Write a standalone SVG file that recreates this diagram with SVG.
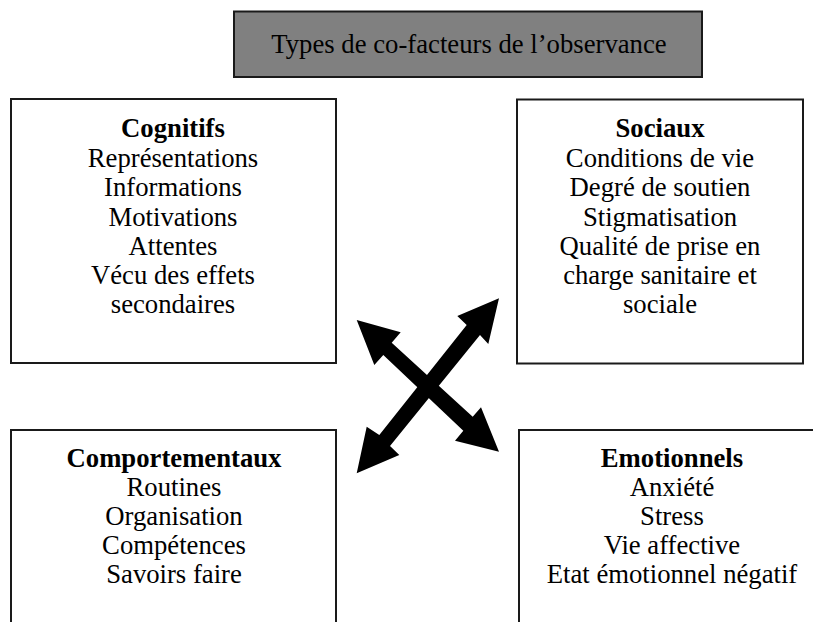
<svg xmlns="http://www.w3.org/2000/svg" width="813" height="622" viewBox="0 0 813 622">
<style>
.box{fill:#fff;stroke:#1a1a1a;stroke-width:2}
.title{fill:#808080;stroke:#1a1a1a;stroke-width:2}
text{font-family:"Liberation Serif","Times New Roman",serif;font-size:26.7px;fill:#000;text-anchor:middle}
.h{font-weight:bold}
.arrow{fill:#000;stroke:none}
</style>
<rect width="813" height="622" fill="#fff"/>
<g id="title">
<rect class="title" x="234" y="11.5" width="468" height="65.5"/>
<text x="469" y="53">Types de co-facteurs de l’observance</text>
</g>
<g id="cognitifs">
<rect class="box" x="11" y="99" width="325" height="264"/>
<text class="h" x="173" y="137">Cognitifs</text>
<text x="173" y="166.5">Représentations</text>
<text x="173" y="196">Informations</text>
<text x="173" y="225.5">Motivations</text>
<text x="173" y="255">Attentes</text>
<text x="173" y="284">Vécu des effets</text>
<text x="173" y="313">secondaires</text>
</g>
<g id="sociaux">
<rect class="box" x="517" y="99.5" width="286" height="264"/>
<text class="h" x="660" y="137">Sociaux</text>
<text x="660" y="166.5">Conditions de vie</text>
<text x="660" y="196">Degré de soutien</text>
<text x="660" y="225.5">Stigmatisation</text>
<text x="660" y="255">Qualité de prise en</text>
<text x="660" y="284">charge sanitaire et</text>
<text x="660" y="313">sociale</text>
</g>
<g id="comportementaux">
<rect class="box" x="11" y="430" width="325" height="220"/>
<text class="h" x="174" y="467">Comportementaux</text>
<text x="174" y="496">Routines</text>
<text x="174" y="525">Organisation</text>
<text x="174" y="554">Compétences</text>
<text x="174" y="583">Savoirs faire</text>
</g>
<g id="emotionnels">
<rect class="box" x="519" y="430" width="310" height="220"/>
<text class="h" x="672" y="467">Emotionnels</text>
<text x="672" y="496">Anxiété</text>
<text x="672" y="525">Stress</text>
<text x="672" y="554">Vie affective</text>
<text x="672" y="583">Etat émotionnel négatif</text>
</g>
<g id="connectors">
<polygon class="arrow" points="356.7,320 400.7,332.3 391.7,342.7 472.7,416.7 481,407.3 499,451.7 455,440.7 463.3,430.7 383.3,355 374.3,365"/>
<polygon class="arrow" points="356.7,473.3 366.7,426.7 379.3,435 466.7,325 457.3,316 499,298.3 488.3,344 480,335 390,446 399.3,455"/>
</g>
</svg>
